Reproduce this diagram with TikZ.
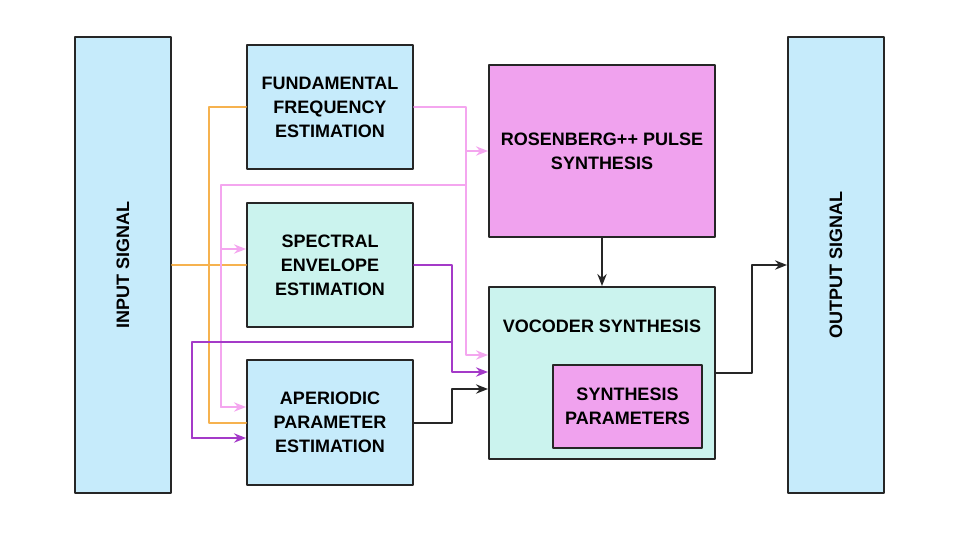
\documentclass[tikz,border=0pt]{standalone}
\usepackage{fontspec}
\setmainfont{Liberation Sans}
\usetikzlibrary{arrows.meta}
\definecolor{blueboxfill}{HTML}{C6EBFB}
\definecolor{cyanboxfill}{HTML}{CBF3EE}
\definecolor{pinkboxfill}{HTML}{F0A2EE}
\definecolor{orangeline}{HTML}{F6B24F}
\definecolor{pinkline}{HTML}{F4A6EF}
\definecolor{purpleline}{HTML}{A43AC8}
\tikzstyle{every path}=[line width=1.5pt, line cap=round, line join=round]
\tikzstyle{block}=[draw=black!85, line width=1.5pt, align=center, inner sep=0pt,
  font=\fontsize{13.5}{18}\selectfont\bfseries]
\tikzstyle{arr}=[-{Stealth[length=9pt,width=7pt,inset=3pt]}]

\begin{document}
\begin{tikzpicture}[x=0.75pt,y=-0.75pt]
          \useasboundingbox (0,0) rectangle (960,540);
          %bloques
          \node[block, fill=blueboxfill, minimum width=72pt, minimum height=342pt] (in) at (123,265) {\rotatebox{90}{INPUT SIGNAL}};
          \node[block, fill=blueboxfill, minimum width=124.5pt, minimum height=93pt] (ffe) at (330,107) {FUNDAMENTAL\\FREQUENCY\\ESTIMATION};
          \node[block, fill=cyanboxfill, minimum width=124.5pt, minimum height=93pt] (see) at (330,265) {SPECTRAL\\ENVELOPE\\ESTIMATION};
          \node[block, fill=blueboxfill, minimum width=124.5pt, minimum height=93.75pt] (ape) at (330,422.5) {APERIODIC\\PARAMETER\\ESTIMATION};
          \node[block, fill=pinkboxfill, minimum width=169.5pt, minimum height=129pt] (ros) at (602,151) {ROSENBERG++ PULSE\\SYNTHESIS};
          \node[block, fill=cyanboxfill, minimum width=169.5pt, minimum height=129pt] (voc) at (602,373) {};
          \node[block, draw=none] (voctxt) at (602,326) {VOCODER SYNTHESIS};
          \node[block, fill=pinkboxfill, minimum width=111.75pt, minimum height=62.25pt] (par) at (627.5,406.5) {SYNTHESIS\\PARAMETERS};
          \node[block, fill=blueboxfill, minimum width=72pt, minimum height=342pt] (out) at (836,265) {\rotatebox{90}{OUTPUT SIGNAL}};
          %senal de entrada
          \draw[orangeline] (in.east) -- (see.west);
          \draw[orangeline] (ffe.west) -| (209,265) |- (ape.west);
          %frecuencia fundamental
          \draw[pinkline, arr] (ffe.east) -| (466,355) -- (voc.west |- 0,355);
          \draw[pinkline, arr] (466,151) -- (ros.west);
          \draw[pinkline] (466,185) -| (221,407);
          \draw[pinkline, arr] (221,249) -- (see.west |- 0,249);
          \draw[pinkline, arr] (221,407) -- (ape.west |- 0,407);
          %envolvente espectral
          \draw[purpleline, arr] (see.east) -| (452,372) -- (voc.west |- 0,372);
          \draw[purpleline] (452,342) -| (192,438);
          \draw[purpleline, arr] (192,438) -- (ape.west |- 0,438);
          %aperiodicidad y salida
          \draw[black!85, arr] (ape.east) -| (452,389) -- (voc.west |- 0,389);
          \draw[black!85, arr] (ros.south) -- (voc.north);
          \draw[black!85, arr] (voc.east) -| (752,265) -- (out.west);
        \end{tikzpicture}
\end{document}
